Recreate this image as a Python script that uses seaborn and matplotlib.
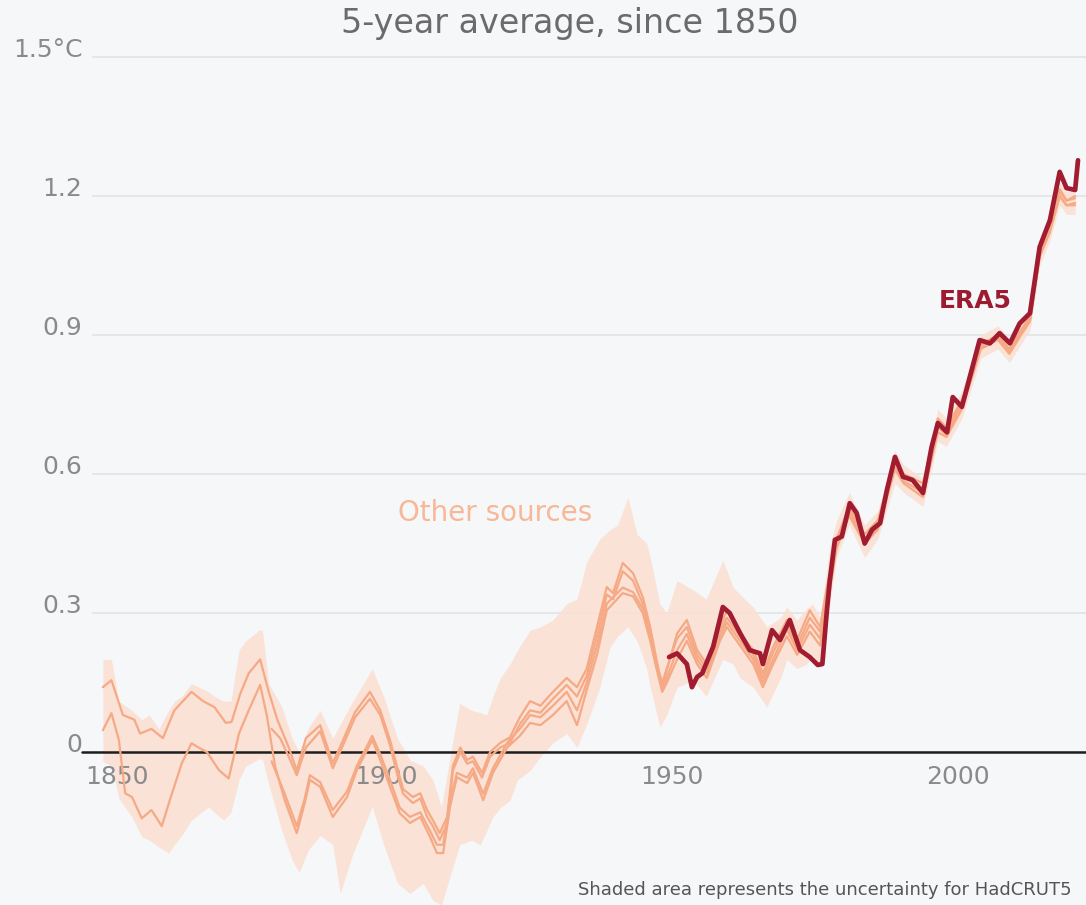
import matplotlib
matplotlib.use("Agg")
import matplotlib.pyplot as plt
import seaborn as sns

# --- data (5-year averages, °C above pre-industrial) ---
# uncertainty band (HadCRUT5)
band_years = [1850.5, 1852, 1853.3, 1855.6, 1857.3, 1858.6, 1860.3, 1862, 1863, 1864.3,
              1866, 1869, 1870, 1871.6, 1872.9, 1874.3, 1875.5, 1877.8, 1878.4, 1879.5,
              1881.8, 1883.6, 1884.8, 1886.5, 1888.5, 1890.7, 1892, 1894.2, 1897.6, 1899.6,
              1902, 1904.2, 1906.5, 1908.2, 1909.7, 1911.7, 1912.9, 1915, 1916.5, 1917.6,
              1918.7, 1920, 1921.7, 1923, 1925.2, 1927, 1929.2, 1931.6, 1933.4, 1935.1,
              1937.4, 1939.2, 1940.5, 1942.3, 1943.9, 1945.6, 1946.2, 1947.9, 1949.1, 1950.9,
              1953.7, 1956, 1958.9, 1960.7, 1961.9, 1964.2, 1966.6, 1969, 1970.1, 1971.9,
              1973.6, 1974.6, 1975.9, 1977.7, 1978.8, 1981, 1983.7, 1986, 1989, 1990.5,
              1993.9, 1996.5, 1998, 2000.7, 2002, 2004, 2007, 2009, 2011, 2012.6,
              2014.3, 2016, 2017.8, 2019, 2020.5]
band_low = [-0.02, -0.03, -0.1, -0.14, -0.183, -0.19, -0.205, -0.218, -0.2, -0.18,
            -0.147, -0.118, -0.13, -0.147, -0.13, -0.06, -0.03, -0.015, -0.015, -0.07,
            -0.17, -0.233, -0.26, -0.21, -0.18, -0.2, -0.305, -0.22, -0.118, -0.2,
            -0.283, -0.305, -0.283, -0.32, -0.33, -0.248, -0.2, -0.19, -0.2, -0.17,
            -0.14, -0.12, -0.104, -0.06, -0.04, -0.01, 0.02, 0.04, 0.01, 0.06,
            0.14, 0.227, 0.25, 0.27, 0.24, 0.18, 0.14, 0.054, 0.08, 0.14,
            0.155, 0.12, 0.2, 0.19, 0.16, 0.14, 0.097, 0.16, 0.2, 0.18,
            0.19, 0.21, 0.18, 0.33, 0.42, 0.49, 0.42, 0.46, 0.58, 0.56,
            0.53, 0.67, 0.66, 0.72, 0.77, 0.85, 0.87, 0.84, 0.88, 0.91,
            1.05, 1.1, 1.18, 1.16, 1.16]
band_high = [0.2, 0.2, 0.11, 0.09, 0.07, 0.08, 0.05, 0.09, 0.11, 0.12,
             0.148, 0.13, 0.12, 0.11, 0.11, 0.22, 0.24, 0.263, 0.263, 0.148,
             0.097, 0.03, 0.0, 0.054, 0.09, 0.03, 0.06, 0.11, 0.18, 0.12,
             0.03, -0.017, -0.03, -0.06, -0.118, 0.025, 0.105, 0.09, 0.085, 0.08,
             0.12, 0.16, 0.19, 0.22, 0.263, 0.27, 0.285, 0.32, 0.33, 0.41,
             0.46, 0.48, 0.49, 0.55, 0.47, 0.45, 0.42, 0.32, 0.3, 0.37,
             0.35, 0.33, 0.414, 0.356, 0.34, 0.313, 0.27, 0.29, 0.313, 0.285,
             0.31, 0.32, 0.29, 0.45, 0.5, 0.56, 0.49, 0.52, 0.65, 0.62,
             0.59, 0.74, 0.72, 0.78, 0.83, 0.9, 0.92, 0.89, 0.93, 0.96,
             1.1, 1.15, 1.23, 1.21, 1.21]

# other sources: two records from 1850, two from 1880
src_a_years = [1850.5, 1852, 1854, 1856, 1857, 1859, 1861, 1863, 1866, 1868,
               1870, 1872, 1873, 1874.5, 1876, 1878, 1879.5, 1881, 1883, 1884.4,
               1886, 1888.5, 1890.7, 1892.5, 1894.6, 1897.2, 1899, 1900.7, 1902, 1903,
               1904.7, 1906, 1907.2, 1908.2, 1909.4, 1910.7, 1911.7, 1913, 1914.2, 1915.2,
               1916.8, 1918.2, 1920, 1921.7, 1923.4, 1925.2, 1927, 1929.2, 1931.6, 1933.4,
               1935.1, 1936.9, 1938.6, 1939.7, 1941.4, 1943.2, 1944.9, 1946.2, 1947.3, 1948.3,
               1949.1, 1950.9, 1952.6, 1954.4, 1956.1, 1958.4, 1959.6, 1961.9, 1964.2, 1965.9,
               1967.7, 1970.1, 1971.9, 1974.1, 1975.9, 1977.1, 1978.8, 1981, 1983.7, 1986,
               1989, 1990.5, 1993.9, 1996.5, 1998, 2000.7, 2002, 2004, 2007, 2009,
               2011, 2012.6, 2014.3, 2016, 2017.8, 2019, 2020.5]
src_a_vals = [0.14, 0.155, 0.08, 0.07, 0.04, 0.05, 0.03, 0.09, 0.13, 0.11,
              0.097, 0.063, 0.065, 0.125, 0.17, 0.2, 0.13, 0.07, 0.01, -0.04,
              0.03, 0.058, -0.024, 0.026, 0.086, 0.13, 0.09, 0.026, -0.035, -0.08,
              -0.097, -0.089, -0.125, -0.147, -0.175, -0.14, -0.03, 0.01, -0.017, -0.01,
              -0.045, 0.0, 0.02, 0.032, 0.075, 0.11, 0.1, 0.13, 0.16, 0.14,
              0.18, 0.27, 0.356, 0.343, 0.408, 0.386, 0.335, 0.27, 0.2, 0.14,
              0.177, 0.256, 0.285, 0.22, 0.19, 0.27, 0.306, 0.257, 0.22, 0.17,
              0.227, 0.285, 0.242, 0.306, 0.27, 0.356, 0.46, 0.53, 0.47, 0.5,
              0.63, 0.6, 0.58, 0.72, 0.7, 0.76, 0.8, 0.88, 0.9, 0.87,
              0.91, 0.94, 1.08, 1.12, 1.21, 1.19, 1.2]

src_b_years = [1850.5, 1852, 1853.3, 1854.4, 1855.6, 1857.3, 1859, 1860.8, 1862.2, 1864.3,
               1866, 1867.2, 1868.7, 1870.8, 1872.5, 1874.3, 1876, 1878, 1879.2, 1880.6,
               1882.3, 1884.4, 1885.8, 1886.7, 1888.5, 1890.7, 1893.2, 1894.9, 1897.6, 1899,
               1900.7, 1902.4, 1904.2, 1906, 1907.7, 1908.9, 1910, 1911.2, 1912.4, 1914.2,
               1915.2, 1917, 1918.7, 1921.2, 1923.4, 1925.2, 1927, 1929.2, 1931.6, 1933.4,
               1935.1, 1936.9, 1938.6, 1941.4, 1943.2, 1944.9, 1946.2, 1947.3, 1948.3, 1949.1,
               1950.9, 1952.6, 1954.4, 1956.1, 1958.4, 1959.6, 1961.9, 1964.2, 1965.9, 1967.7,
               1970.1, 1971.9, 1974.1, 1975.9, 1977.1, 1978.8, 1981, 1983.7, 1986, 1989,
               1990.5, 1993.9, 1996.5, 1998, 2000.7, 2002, 2004, 2007, 2009, 2011,
               2012.6, 2014.3, 2016, 2017.8, 2019, 2020.5]
src_b_vals = [0.047, 0.084, 0.026, -0.089, -0.097, -0.143, -0.125, -0.16, -0.104, -0.024,
              0.019, 0.01, 0.0, -0.039, -0.057, 0.04, 0.09, 0.145, 0.077, -0.03,
              -0.104, -0.175, -0.11, -0.06, -0.075, -0.14, -0.097, -0.039, 0.026, -0.017,
              -0.075, -0.132, -0.153, -0.14, -0.183, -0.218, -0.218, -0.118, -0.054, -0.067,
              -0.045, -0.104, -0.045, 0.01, 0.035, 0.063, 0.058, 0.08, 0.11, 0.058,
              0.134, 0.21, 0.306, 0.343, 0.336, 0.3, 0.24, 0.18, 0.13, 0.15,
              0.2, 0.24, 0.19, 0.16, 0.24, 0.27, 0.23, 0.19, 0.14, 0.19,
              0.25, 0.21, 0.26, 0.23, 0.31, 0.44, 0.51, 0.45, 0.48, 0.61,
              0.58, 0.55, 0.69, 0.68, 0.74, 0.79, 0.87, 0.89, 0.86, 0.9,
              0.93, 1.07, 1.12, 1.2, 1.18, 1.18]

src_c_years = [1880, 1881.5, 1883, 1884.4, 1886, 1888.5, 1890.7, 1892.5, 1894.6, 1897.2,
               1899, 1900.7, 1902, 1903, 1904.7, 1906, 1907.2, 1908.2, 1909.4, 1910.7,
               1911.7, 1913, 1914.2, 1915.2, 1916.8, 1918.2, 1920, 1921.7, 1923.4, 1925.2,
               1927, 1929.2, 1931.6, 1933.4, 1935.1, 1936.9, 1938.6, 1939.7, 1941.4, 1943.2,
               1944.9, 1946.2, 1947.3, 1948.3, 1949.1, 1950.9, 1952.6, 1954.4, 1956.1, 1958.4,
               1959.6, 1961.9, 1964.2, 1965.9, 1967.7, 1970.1, 1971.9, 1974.1, 1975.9, 1977.1,
               1978.8, 1981, 1983.7, 1986, 1989, 1990.5, 1993.9, 1996.5, 1998, 2000.7,
               2002, 2004, 2007, 2009, 2011, 2012.6, 2014.3, 2016, 2017.8, 2019,
               2020.5]
src_c_vals = [0.05, 0.03, -0.01, -0.05, 0.01, 0.045, -0.035, 0.015, 0.075, 0.115,
              0.08, 0.015, -0.05, -0.09, -0.11, -0.1, -0.14, -0.16, -0.19, -0.155,
              -0.04, 0.0, -0.025, -0.02, -0.055, -0.01, 0.01, 0.02, 0.06, 0.09,
              0.085, 0.115, 0.145, 0.12, 0.165, 0.25, 0.34, 0.33, 0.39, 0.37,
              0.32, 0.26, 0.19, 0.15, 0.18, 0.245, 0.27, 0.21, 0.18, 0.26,
              0.29, 0.25, 0.21, 0.16, 0.215, 0.275, 0.23, 0.29, 0.26, 0.34,
              0.45, 0.525, 0.46, 0.49, 0.625, 0.595, 0.57, 0.71, 0.69, 0.755,
              0.8, 0.875, 0.895, 0.865, 0.905, 0.935, 1.075, 1.125, 1.215, 1.19,
              1.195]

src_d_years = [1880, 1882.3, 1884.4, 1885.8, 1886.7, 1888.5, 1890.7, 1893.2, 1894.9, 1897.6,
               1899, 1900.7, 1902.4, 1904.2, 1906, 1907.7, 1908.9, 1910, 1911.2, 1912.4,
               1914.2, 1915.2, 1917, 1918.7, 1921.2, 1923.4, 1925.2, 1927, 1929.2, 1931.6,
               1933.4, 1935.1, 1936.9, 1938.6, 1941.4, 1943.2, 1944.9, 1946.2, 1947.3, 1948.3,
               1949.1, 1950.9, 1952.6, 1954.4, 1956.1, 1958.4, 1959.6, 1961.9, 1964.2, 1965.9,
               1967.7, 1970.1, 1971.9, 1974.1, 1975.9, 1977.1, 1978.8, 1981, 1983.7, 1986,
               1989, 1990.5, 1993.9, 1996.5, 1998, 2000.7, 2002, 2004, 2007, 2009,
               2011, 2012.6, 2014.3, 2016, 2017.8, 2019, 2020.5]
src_d_vals = [-0.02, -0.09, -0.16, -0.1, -0.05, -0.065, -0.125, -0.085, -0.03, 0.035,
              -0.005, -0.06, -0.12, -0.14, -0.13, -0.17, -0.2, -0.2, -0.105, -0.045,
              -0.055, -0.035, -0.09, -0.035, 0.02, 0.05, 0.08, 0.075, 0.1, 0.13,
              0.09, 0.15, 0.23, 0.32, 0.355, 0.345, 0.31, 0.25, 0.19, 0.135,
              0.16, 0.22, 0.255, 0.2, 0.17, 0.25, 0.28, 0.24, 0.2, 0.15,
              0.2, 0.265, 0.22, 0.275, 0.245, 0.325, 0.45, 0.515, 0.455, 0.485,
              0.615, 0.585, 0.56, 0.7, 0.685, 0.745, 0.795, 0.87, 0.89, 0.86,
              0.9, 0.93, 1.07, 1.12, 1.2, 1.18, 1.185]

# ERA5
era5_years = [1949.5, 1950.9, 1952.6, 1953.5, 1954.4, 1955.3, 1957.2, 1958.9, 1960.1, 1961.9,
              1963.6, 1965.4, 1965.9, 1967.5, 1968.9, 1970.6, 1972.4, 1974.1, 1975.5, 1976.3,
              1977.1, 1977.6, 1978.5, 1979.7, 1981.1, 1982.3, 1983.7, 1985, 1986.4, 1987.6,
              1989, 1990.4, 1992.1, 1993.9, 1995.4, 1996.5, 1998.1, 1999.1, 2000.7, 2002.1,
              2003.8, 2005.6, 2007.3, 2009.1, 2010.8, 2012.6, 2014.3, 2016.1, 2017.8, 2019,
              2020.5, 2021]
era5_vals = [0.205, 0.213, 0.19, 0.14, 0.162, 0.17, 0.227, 0.313, 0.3, 0.257,
             0.22, 0.213, 0.19, 0.263, 0.242, 0.285, 0.22, 0.205, 0.188, 0.19,
             0.306, 0.37, 0.458, 0.465, 0.537, 0.516, 0.45, 0.48, 0.494, 0.566,
             0.637, 0.594, 0.587, 0.559, 0.658, 0.71, 0.69, 0.766, 0.745, 0.81,
             0.889, 0.882, 0.904, 0.882, 0.925, 0.947, 1.09, 1.148, 1.252, 1.217,
             1.213, 1.277]

x_ticks = [1850, 1900, 1950, 2000]
y_ticks = [0, 0.3, 0.6, 0.9, 1.2, 1.5]
y_tick_labels = ["0", "0.3", "0.6", "0.9", "1.2", "1.5°C"]

# colours
bg = "#f6f7f9"
band_col = "#fbdfd2"
src_col = "#f6a985"
era5_col = "#a11c30"

sns.set_theme(style="white")
plt.rcParams["font.family"] = ["DejaVu Sans"]

fig = plt.figure(figsize=(10.86, 9.05), dpi=100, facecolor=bg)
ax = fig.add_axes([92 / 1086, 0, 994 / 1086, 855 / 905])
ax.set_facecolor(bg)

ax.fill_between(band_years, band_low, band_high, color=band_col, alpha=0.85,
                lw=0, zorder=1)
ax.axhline(0, xmin=-10 / 994, xmax=1, color="#1e1e1e", lw=1.8, zorder=2, clip_on=False)

for yrs, vals in [(src_a_years, src_a_vals), (src_b_years, src_b_vals),
                  (src_c_years, src_c_vals), (src_d_years, src_d_vals)]:
    sns.lineplot(x=yrs, y=vals, ax=ax, color=src_col, lw=1.6, zorder=3, errorbar=None)

sns.lineplot(x=era5_years, y=era5_vals, ax=ax, color=era5_col, lw=3.4, zorder=4,
             errorbar=None)

ax.set_xlim(1848.6, 2022.4)
ax.set_ylim(-0.330, 1.515)

# axes styling
for s in ax.spines.values():
    s.set_visible(False)
ax.spines["bottom"].set_position(("data", 0))
ax.set_xticks(x_ticks)
ax.set_xticklabels(["" if t == 1850 else str(t) for t in x_ticks])
ax.set_yticks(y_ticks)
ax.set_yticklabels(y_tick_labels, va="baseline")
ax.tick_params(axis="x", length=0, pad=9, labelsize=18, labelcolor="#8a8a8a")
ax.tick_params(axis="y", length=0, pad=7, labelsize=18, labelcolor="#8a8a8a")
ax.yaxis.grid(True, color="#e3e5e9", lw=1.3)
ax.set_axisbelow(True)
ax.xaxis.set_zorder(2.5)
ax.set_xlabel("")
ax.set_ylabel("")

# first year label sits nudged to the right of its tick, as in the original
ax.annotate("1850", xy=(1850, 0), xytext=(12, -9.5), textcoords="offset points",
            ha="center", va="top", fontsize=18, color="#8a8a8a", zorder=2.5)

# annotations
ax.text(1919.1, 0.516, "Other sources", color="#f8b796", fontsize=20,
        ha="center", va="center", zorder=5)
ax.text(2003.0, 0.973, "ERA5", color="#9c1b31", fontsize=18, fontweight="bold",
        ha="center", va="center", zorder=5)

fig.text(570 / 1086, 1 - 24 / 905, "5-year average, since 1850", color="#6b6b6b",
         fontsize=24, ha="center", va="center")
fig.text(578 / 1086, 1 - 890 / 905, "Shaded area represents the uncertainty for HadCRUT5",
         color="#555555", fontsize=13, ha="left", va="center")

fig.savefig("out.png", dpi=100, facecolor=bg)
